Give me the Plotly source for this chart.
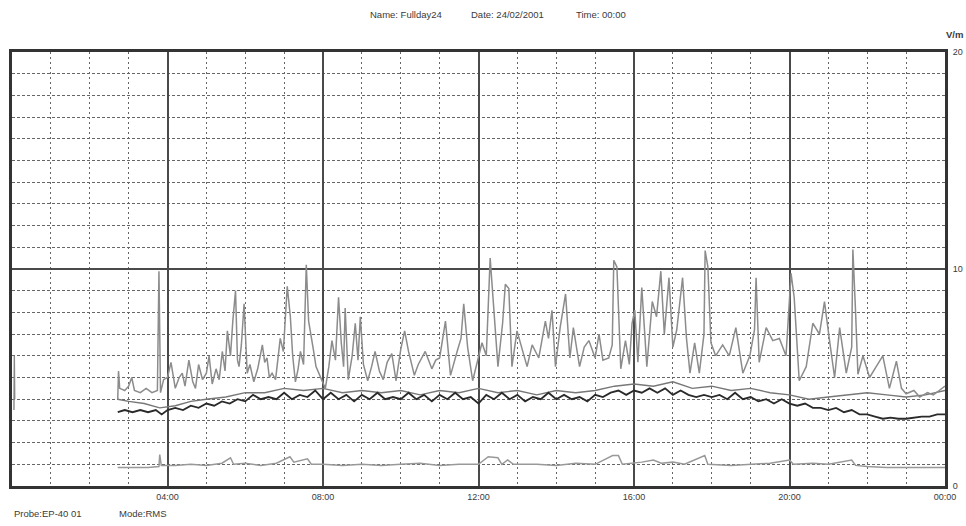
import plotly.graph_objects as go

# ---- data (hours since 00:00, field strength V/m) ----
a_hours = [2.72, 2.74, 2.77, 2.9, 3.0, 3.08, 3.15, 3.3, 3.45, 3.6, 3.74, 3.78, 3.82, 3.9, 4.0, 4.09, 4.2, 4.3, 4.38, 4.45,
           4.55, 4.65, 4.72, 4.8, 4.9, 5.0, 5.07, 5.15, 5.25, 5.33, 5.41, 5.48, 5.54, 5.62, 5.68, 5.75, 5.8, 5.84, 5.9, 5.97,
           6.05, 6.12, 6.22, 6.32, 6.44, 6.5, 6.56, 6.62, 6.69, 6.78, 6.9, 6.98, 7.08, 7.16, 7.22, 7.29, 7.36, 7.42, 7.5, 7.57,
           7.63, 7.7, 7.76, 7.82, 7.89, 7.98, 8.06, 8.15, 8.23, 8.32, 8.4, 8.47, 8.53, 8.57, 8.65, 8.75, 8.83, 8.9, 8.96, 9.04,
           9.15, 9.25, 9.34, 9.45, 9.55, 9.65, 9.77, 9.88, 10.0, 10.1, 10.2, 10.35, 10.45, 10.63, 10.8, 10.9, 11.0, 11.15, 11.28, 11.45,
           11.55, 11.62, 11.72, 11.85, 11.95, 12.09, 12.2, 12.3, 12.38, 12.5, 12.62, 12.69, 12.78, 12.86, 12.99, 13.1, 13.25, 13.38, 13.55, 13.72,
           13.8, 13.89, 13.98, 14.1, 14.24, 14.35, 14.44, 14.6, 14.72, 14.84, 15.0, 15.1, 15.2, 15.35, 15.44, 15.48, 15.56, 15.66, 15.78, 15.88,
           15.95, 16.02, 16.1, 16.2, 16.33, 16.47, 16.58, 16.69, 16.78, 16.9, 17.0, 17.1, 17.25, 17.35, 17.44, 17.56, 17.68, 17.8, 17.83, 17.9,
           17.98, 18.1, 18.28, 18.45, 18.62, 18.8, 18.98, 19.1, 19.14, 19.22, 19.4, 19.57, 19.74, 19.91, 20.04, 20.12, 20.25, 20.43, 20.6, 20.77,
           20.9, 21.03, 21.16, 21.29, 21.46, 21.6, 21.63, 21.7, 21.76, 21.89, 22.06, 22.23, 22.4, 22.57, 22.75, 22.88, 23.0, 23.2, 23.35, 23.55,
           23.7, 23.85, 24.0]
a_vals = [4.0, 5.3, 4.5, 4.4, 4.6, 5.0, 4.4, 4.3, 4.5, 4.3, 4.4, 9.9, 4.3, 4.9, 5.0, 5.7, 4.5, 5.0, 5.2, 4.6,
          5.8, 4.8, 4.5, 5.6, 4.9, 5.2, 6.0, 4.7, 5.4, 4.9, 6.2, 5.3, 7.15, 6.0, 7.6, 9.0, 5.8, 5.5, 6.5, 8.4,
          5.2, 5.6, 4.8, 5.4, 6.5, 5.7, 5.9, 5.0, 5.2, 4.9, 6.8, 6.2, 9.2, 7.8, 6.0, 4.8, 5.4, 6.2, 5.6, 10.2,
          7.6, 6.9, 6.2, 5.5, 5.2, 4.8, 4.5, 5.5, 6.7, 5.8, 8.7, 6.6, 5.5, 8.2, 4.9, 6.0, 7.5, 5.8, 7.8, 5.6,
          4.85, 5.5, 6.2, 5.3, 4.9, 5.7, 6.1, 4.85, 6.3, 7.15, 6.2, 5.1, 5.6, 6.2, 5.4, 5.8, 5.9, 7.6, 5.1, 6.2,
          6.8, 8.4, 6.4, 4.85, 5.6, 6.6, 6.0, 10.5, 8.5, 5.5, 7.5, 9.3, 9.1, 5.5, 7.15, 6.5, 5.5, 6.5, 5.9, 7.6,
          6.8, 8.1, 5.5, 7.3, 8.85, 5.9, 7.3, 5.5, 6.4, 6.7, 5.9, 7.0, 5.8, 5.9, 6.5, 10.4, 10.1, 5.4, 6.7, 5.6,
          7.5, 8.1, 5.7, 9.15, 5.5, 8.5, 7.8, 9.9, 7.0, 9.6, 6.4, 7.2, 9.6, 6.8, 5.2, 6.6, 5.2, 7.0, 10.85, 10.1,
          6.6, 6.0, 6.5, 6.0, 7.3, 5.2, 6.0, 7.2, 9.6, 5.7, 7.3, 6.7, 6.8, 6.0, 9.8, 8.7, 4.85, 5.5, 7.5, 7.0,
          8.5, 6.7, 5.0, 7.3, 5.2, 6.4, 10.9, 8.0, 5.15, 6.0, 5.0, 5.5, 6.0, 4.5, 5.75, 4.5, 4.25, 4.4, 4.1, 4.3,
          4.2, 4.4, 4.6]

b_hours = [2.72, 2.9, 3.1, 3.3, 3.5, 3.7, 3.85, 4.0, 4.2, 4.4, 4.6, 4.8, 5.0, 5.2, 5.4, 5.6, 5.8, 6.0, 6.2, 6.4,
           6.6, 6.8, 7.0, 7.2, 7.4, 7.6, 7.8, 8.0, 8.2, 8.4, 8.6, 8.8, 9.0, 9.2, 9.4, 9.6, 9.8, 10.0, 10.2, 10.4,
           10.6, 10.8, 11.0, 11.2, 11.4, 11.6, 11.8, 12.0, 12.2, 12.4, 12.6, 12.8, 13.0, 13.2, 13.4, 13.6, 13.8, 14.0, 14.2, 14.4,
           14.6, 14.8, 15.0, 15.2, 15.4, 15.6, 15.8, 16.0, 16.2, 16.4, 16.6, 16.8, 17.0, 17.2, 17.4, 17.6, 17.8, 18.0, 18.2, 18.4,
           18.6, 18.8, 19.0, 19.2, 19.4, 19.6, 19.8, 20.0, 20.2, 20.4, 20.6, 20.8, 21.0, 21.2, 21.4, 21.6, 21.8, 22.0, 22.2, 22.4,
           22.6, 22.8, 23.0, 23.2, 23.4, 23.6, 23.8, 24.0]
b_vals = [3.4, 3.5, 3.4, 3.5, 3.4, 3.5, 3.3, 3.5, 3.6, 3.5, 3.7, 3.6, 3.8, 3.7, 3.9, 3.8, 4.0, 3.9, 4.2, 4.0,
          4.1, 4.0, 4.3, 4.0, 4.2, 4.1, 4.4, 4.0, 4.3, 4.0, 4.2, 3.9, 4.2, 4.0, 4.3, 4.0, 4.1, 4.0, 4.3, 4.0,
          4.2, 3.9, 4.2, 4.0, 4.3, 4.0, 4.1, 3.8, 4.2, 4.0, 4.3, 4.0, 4.2, 3.9, 4.1, 4.0, 4.3, 4.0, 4.2, 4.0,
          4.1, 3.9, 4.2, 4.1, 4.3, 4.4, 4.2, 4.4, 4.3, 4.5, 4.3, 4.5, 4.2, 4.4, 4.2, 4.1, 4.2, 4.1, 4.2, 4.0,
          4.3, 4.0, 4.1, 3.9, 4.0, 3.8, 4.0, 3.8, 3.7, 3.8, 3.6, 3.6, 3.5, 3.6, 3.4, 3.5, 3.3, 3.3, 3.2, 3.1,
          3.15, 3.1, 3.1, 3.15, 3.2, 3.2, 3.3, 3.3]

c_hours = [2.72, 3.0, 3.4, 3.8, 4.2, 4.6, 5.0, 5.5, 6.0, 6.5, 7.0, 7.5, 8.0, 8.5, 9.0, 9.5, 10.0, 10.5, 11.0, 11.5,
           12.0, 12.5, 13.0, 13.5, 14.0, 14.5, 15.0, 15.5, 16.0, 16.5, 17.0, 17.5, 18.0, 18.5, 19.0, 19.5, 20.0, 20.5, 21.0, 21.5,
           22.0, 22.5, 23.0, 23.5, 24.0]
c_vals = [4.0, 3.9, 3.8, 3.6, 3.7, 3.9, 4.0, 4.1, 4.3, 4.3, 4.5, 4.4, 4.5, 4.3, 4.4, 4.3, 4.4, 4.2, 4.4, 4.3,
          4.5, 4.3, 4.4, 4.2, 4.4, 4.3, 4.4, 4.6, 4.7, 4.6, 4.8, 4.5, 4.6, 4.4, 4.5, 4.3, 4.2, 4.0, 4.1, 4.2,
          4.3, 4.2, 4.1, 4.2, 4.4]

d_hours = [2.72, 3.0, 3.5, 3.78, 3.8, 3.84, 4.2, 4.6, 5.0, 5.4, 5.62, 5.7, 6.0, 6.4, 6.8, 7.15, 7.25, 7.6, 7.7, 8.0,
           8.5, 9.0, 9.5, 10.0, 10.5, 11.0, 11.5, 12.0, 12.25, 12.5, 12.6, 12.75, 12.9, 13.5, 14.0, 14.5, 15.0, 15.45, 15.6, 15.7,
           16.2, 16.5, 16.7, 17.0, 17.3, 17.82, 17.9, 18.5, 19.0, 19.5, 20.0, 20.1, 20.6, 21.0, 21.6, 21.7, 22.0, 22.5, 23.0, 23.5,
           24.0]
d_vals = [0.85, 0.85, 0.85, 0.9, 1.45, 0.95, 0.95, 1.0, 0.95, 1.05, 1.3, 1.0, 1.05, 0.95, 1.05, 1.35, 1.1, 1.25, 1.0, 1.0,
          0.95, 1.0, 0.95, 1.0, 1.05, 0.95, 1.0, 1.0, 1.35, 1.3, 1.0, 1.2, 1.0, 1.0, 0.95, 1.05, 1.0, 1.4, 1.4, 1.0,
          1.1, 1.2, 1.05, 1.1, 1.0, 1.4, 1.0, 0.95, 1.0, 1.05, 1.2, 1.0, 1.05, 1.0, 1.2, 0.95, 0.9, 0.85, 0.85, 0.85,
          0.85]

e_hours = [0.05, 0.06, 0.07]
e_vals = [3.5, 6.0, 4.0]

x_tick_vals = [4, 8, 12, 16, 20, 24]
x_tick_text = ["04:00", "08:00", "12:00", "16:00", "20:00", "00:00"]
y_tick_vals = [0, 10, 20]
y_tick_text = ["0", "10", "20"]
x_minor = list(range(0, 25))
y_minor = list(range(0, 21))

fig = go.Figure()
fig.add_trace(go.Scatter(x=e_hours, y=e_vals, mode="lines", line=dict(color="#888888", width=1.4), showlegend=False))
fig.add_trace(go.Scatter(x=d_hours, y=d_vals, mode="lines", line=dict(color="#999999", width=1.5), showlegend=False))
fig.add_trace(go.Scatter(x=c_hours, y=c_vals, mode="lines", line=dict(color="#777777", width=1.4), showlegend=False))
fig.add_trace(go.Scatter(x=a_hours, y=a_vals, mode="lines", line=dict(color="#8c8c8c", width=1.5), showlegend=False))
fig.add_trace(go.Scatter(x=b_hours, y=b_vals, mode="lines", line=dict(color="#2a2a2a", width=1.8), showlegend=False))

tick_font = dict(family="Liberation Sans, Arial, sans-serif", size=9, color="#3a3a3a")
ann_font = dict(family="Liberation Sans, Arial, sans-serif", size=9.5, color="#3a3a3a")

W, H = 966, 526
pl, pr, pt, pb = 12, 21, 52, 40

fig.update_layout(
    width=W, height=H, autosize=False,
    margin=dict(l=pl, r=pr, t=pt, b=pb),
    paper_bgcolor="white", plot_bgcolor="white",
    xaxis=dict(
        range=[0, 24], tickmode="array", tickvals=x_tick_vals, ticktext=x_tick_text,
        showgrid=True, gridcolor="#4a4a4a", gridwidth=2,
        showline=True, linecolor="#333333", linewidth=3, mirror=True,
        ticks="", tickfont=tick_font, zeroline=False, automargin=False,
        minor=dict(tickmode="array", tickvals=x_minor, showgrid=True, gridcolor="#666666",
                   gridwidth=1, griddash="2px,3px"),
    ),
    yaxis=dict(
        range=[0, 20], side="right", tickmode="array", tickvals=y_tick_vals, ticktext=y_tick_text,
        showgrid=True, gridcolor="#4a4a4a", gridwidth=2,
        showline=True, linecolor="#333333", linewidth=3, mirror=True,
        ticks="", tickfont=tick_font, zeroline=False, automargin=False, ticklabelstandoff=3,
        minor=dict(tickmode="array", tickvals=y_minor, showgrid=True, gridcolor="#666666",
                   gridwidth=1, griddash="3px,2px"),
    ),
)

# annotation positions given in page pixels
page_texts = [
    ("Name: Fullday24", 406, 15, "center", False),
    ("Date: 24/02/2001", 507, 15, "center", False),
    ("Time: 00:00", 601, 15, "center", False),
    ("V/m", 965, 34, "right", True),
    ("Probe:EP-40 01", 12, 513, "left", False),
    ("Mode:RMS", 117, 513, "left", False),
]
for txt, px, py, anchor, bold in page_texts:
    fig.add_annotation(
        text=f"<b>{txt}</b>" if bold else txt,
        xref="paper", yref="paper",
        x=(px - pl) / (W - pl - pr), y=(H - pb - py) / (H - pt - pb),
        xanchor=anchor, yanchor="middle", showarrow=False, font=ann_font,
    )

fig.write_html(
    "out.html",
    config={"displayModeBar": False},
    post_script="document.body.style.margin='0px';document.body.style.overflow='hidden';",
)
